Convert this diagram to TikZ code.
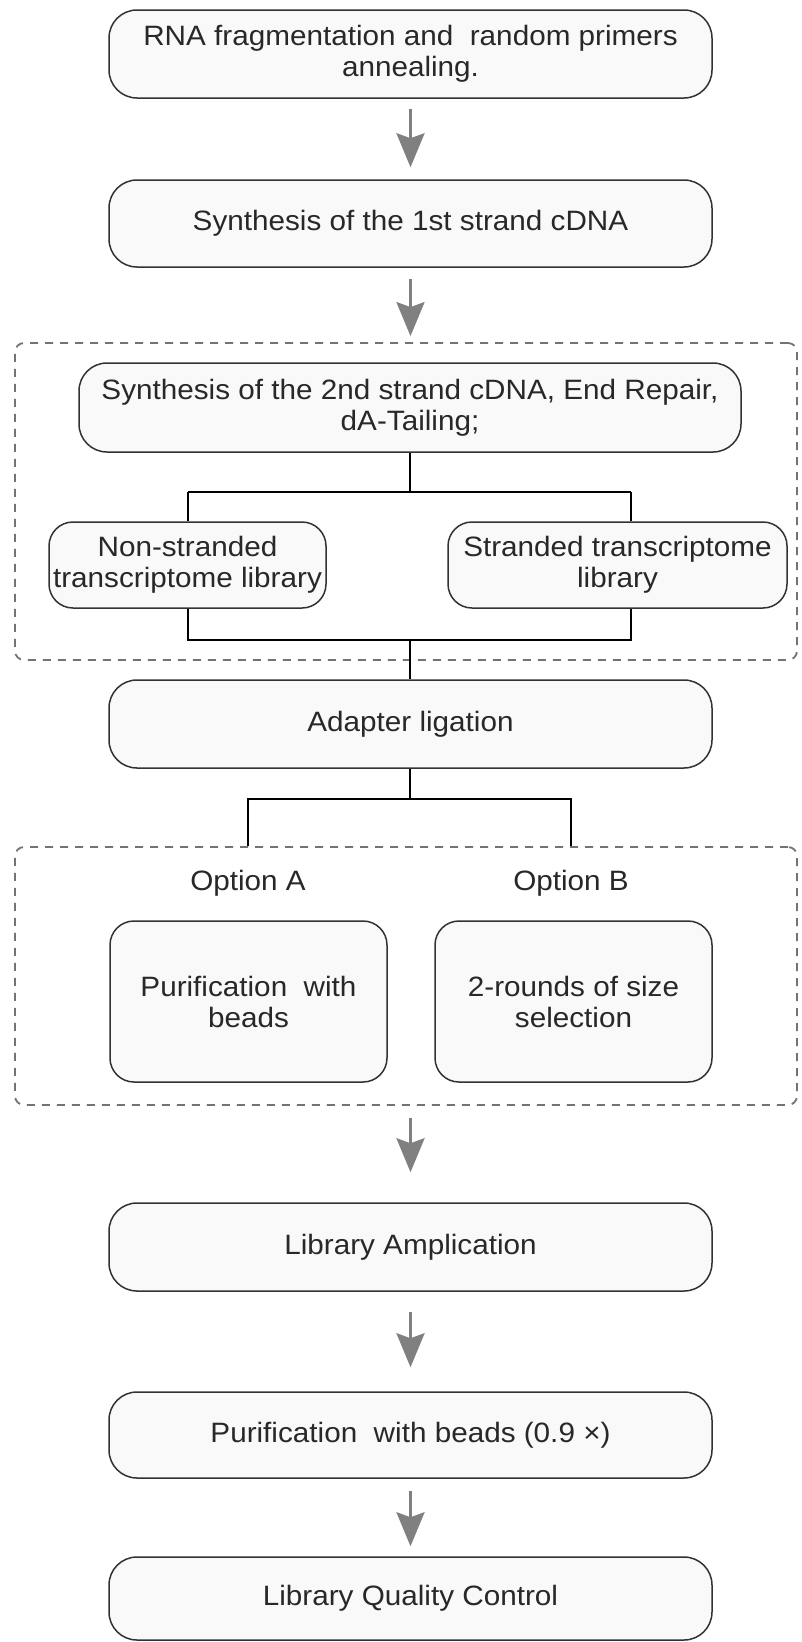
\documentclass[tikz,border=0pt]{standalone}
\usepackage{fontspec}
\setmainfont{Liberation Sans}[FakeStretch=1.06]
\usetikzlibrary{arrows.meta}
\definecolor{boxline}{RGB}{50,50,50}
\definecolor{boxfill}{RGB}{249,249,249}
\definecolor{txt}{RGB}{40,40,40}
\definecolor{arrgray}{RGB}{128,128,128}
\definecolor{dashgray}{RGB}{115,115,115}
\tikzset{
  stepbox/.style={draw=boxline, line width=1.5pt, fill=boxfill, rounded corners=28pt,
    minimum width=603pt, minimum height=88pt, inner sep=0pt, align=center,
    text=txt, font=\fontsize{28}{31}\selectfont},
  smallbox/.style={stepbox, rounded corners=24pt},
  groupbox/.style={draw=dashgray, line width=1.8pt, dash pattern=on 8pt off 7pt,
    rounded corners=9pt, inner sep=0pt},
  arr/.style={draw=arrgray, line width=3pt,
    -{Stealth[length=34pt, width=28pt, inset=5pt, fill=arrgray]}},
  link/.style={draw=black, line width=1.5pt},
  label/.style={text=txt, font=\fontsize{28}{31}\selectfont, inner sep=0pt}
}
\begin{document}
\begin{tikzpicture}[x=1pt,y=1pt]
\useasboundingbox (0,0) rectangle (801,-1642);
\fill[white] (0,0) rectangle (801,-1642);

% dashed groups
\node[groupbox, minimum width=782pt, minimum height=317pt] (g1) at (406,-501.5) {};
\node[groupbox, minimum width=782pt, minimum height=258pt] (g2) at (406,-976) {};

% main boxes
\node[stepbox] (b1) at (410.5,-54) {RNA fragmentation and~~random primers\\annealing.};
\node[stepbox, minimum height=87pt] (b2) at (410.5,-223.5) {Synthesis of the 1st strand cDNA};
\node[stepbox, minimum width=662pt, minimum height=89pt] (b3) at (410,-407.5) {Synthesis of the 2nd strand cDNA, End Repair,\\dA-Tailing;};
\node[smallbox, minimum width=277pt, minimum height=86pt] (nsl) at (187.5,-565) {Non-stranded\\transcriptome library};
\node[smallbox, minimum width=339pt, minimum height=86pt] (sl) at (617.5,-565) {Stranded transcriptome\\library};
\node[stepbox] (adp) at (410.5,-724) {Adapter ligation};

\node[label] (oa) at (248,-883) {Option A};
\node[label] (ob) at (571,-883) {Option B};
\node[smallbox, minimum width=277pt, minimum height=161pt] (pa) at (248.5,-1001.5) {Purification~~with\\beads};
\node[smallbox, minimum width=277pt, minimum height=161pt] (pb) at (573.5,-1001.5) {2-rounds of size\\selection};

\node[stepbox] (la) at (410.5,-1247) {Library Amplication};
\node[stepbox, minimum height=86pt] (pur) at (410.5,-1435) {Purification~~with beads (0.9 ×)};
\node[stepbox, minimum height=83pt] (qc) at (410.5,-1598.5) {Library Quality Control};

% arrows
\draw[arr, shorten <=10pt, shorten >=12pt] (b1.south) -- (b2.north);
\draw[arr, shorten <=11pt, shorten >=6pt] (b2.south) -- (g1.north -| b2.south);
\draw[arr, shorten <=12pt, shorten >=30pt] (g2.south -| la.north) -- (la.north);
\draw[arr, shorten <=20pt, shorten >=24pt] (la.south) -- (pur.north);
\draw[arr, shorten <=12pt, shorten >=10pt] (pur.south) -- (qc.north);

% junction lines in group 1
\coordinate (j1) at (410,-492);
\coordinate (j1l) at (188,-492);
\coordinate (j1r) at (631,-492);
\draw[link] (b3.south) -- (j1);
\draw[link] (j1l) -- (j1r);
\draw[link] (j1l) -- (j1l |- nsl.north);
\draw[link] (j1r) -- (j1r |- sl.north);

\coordinate (j2) at (410,-640);
\coordinate (j2l) at (188,-640);
\coordinate (j2r) at (631,-640);
\draw[link] (j2l |- nsl.south) -- (j2l) -- (j2r) -- (j2r |- sl.south);
\draw[link] (j2) -- (j2 |- adp.north);

% adapter to options
\coordinate (j3) at (410,-799);
\coordinate (j3l) at (248,-799);
\coordinate (j3r) at (571,-799);
\draw[link] (adp.south -| j3) -- (j3);
\draw[link] (j3l |- g2.north) -- (j3l) -- (j3r) -- (j3r |- g2.north);
\end{tikzpicture}
\end{document}
